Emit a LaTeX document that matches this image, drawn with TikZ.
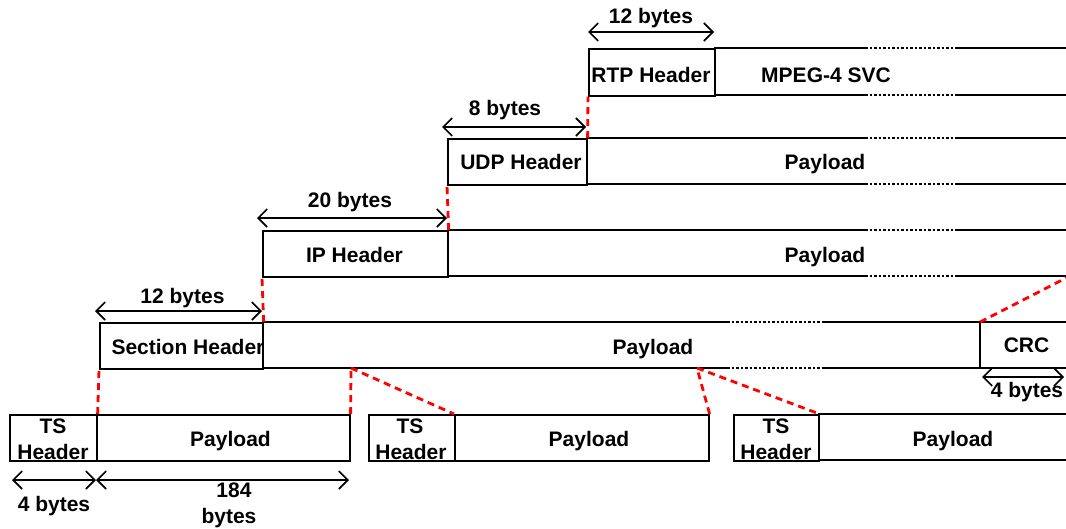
\documentclass[tikz,border=0pt]{standalone}
\usepackage{fontspec}
\setmainfont{Liberation Sans}
\usetikzlibrary{arrows.meta}
\begin{document}
\begin{tikzpicture}[x=1pt,y=-1pt,
  font=\fontsize{21}{26}\selectfont\bfseries,
  frame/.style={draw=black, line width=1.6pt, inner sep=0pt, anchor=north west},
  rule/.style={draw=black, line width=1.6pt},
  dotrule/.style={draw=black, line width=1.6pt, dash pattern=on 2.5pt off 2pt},
  span/.style={draw=black, line width=1.6pt,
    {Straight Barb[length=9pt,width=18pt]}-{Straight Barb[length=9pt,width=18pt]}},
  link/.style={draw=red, line width=2.8pt, dash pattern=on 7pt off 5pt},
  lbl/.style={inner sep=0pt, text height=15pt, text depth=0pt}
]
\useasboundingbox (0,0) rectangle (1066,528);

% an open-ended payload band: solid, dotted gap, solid
\newcommand\band[5]{%
  \draw[rule] (#1,#2) -- (#3,#2);
  \draw[dotrule] (#3,#2) -- (#4,#2);
  \draw[rule] (#4,#2) -- (#5,#2);}

% ---------- RTP layer ----------
\node[frame, minimum width=126pt, minimum height=47pt] (rtp) at (588,48) {};
\band{714}{48}{865}{955}{1068}
\band{714}{95}{865}{955}{1068}
\node[lbl] at (651,74.5) {RTP Header};
\node[lbl] at (826,74.5) {MPEG-4 SVC};
\coordinate (rtpA) at (588,32);
\coordinate (rtpB) at (714,32);
\draw[span] (rtpA) -- (rtpB);
\node[lbl] at (651,16) {12 bytes};

% ---------- UDP layer ----------
\node[frame, minimum width=139pt, minimum height=46pt] (udp) at (447,138) {};
\band{586}{138}{865}{955}{1068}
\band{586}{184}{865}{955}{1068}
\node[lbl] at (521,161.5) {UDP Header};
\node[lbl] at (825,161.5) {Payload};
\coordinate (udpA) at (442,127);
\coordinate (udpB) at (586,127);
\draw[span] (udpA) -- (udpB);
\node[lbl] at (505,107.5) {8 bytes};

% ---------- IP layer ----------
\node[frame, minimum width=185pt, minimum height=46pt] (ip) at (262,230) {};
\band{447}{230}{865}{955}{1068}
\band{447}{276}{865}{955}{1068}
\node[lbl] at (354.5,255) {IP Header};
\node[lbl] at (825,255) {Payload};
\coordinate (ipA) at (257,218);
\coordinate (ipB) at (447,218);
\draw[span] (ipA) -- (ipB);
\node[lbl] at (350,200) {20 bytes};

% ---------- Section layer ----------
\node[frame, minimum width=163pt, minimum height=46pt] (sec) at (99,322) {};
\band{262}{322}{727}{823}{1068}
\band{262}{368}{727}{823}{1068}
\draw[rule] (980,322) -- (980,368);
\coordinate (crcTL) at (980,322);
\node[lbl] at (188,346.5) {Section Header};
\node[lbl] at (653,346.5) {Payload};
\node[lbl] at (1026.5,345) {CRC};
\coordinate (secA) at (95,311);
\coordinate (secB) at (262,311);
\draw[span] (secA) -- (secB);
\node[lbl] at (182.5,295.5) {12 bytes};
\coordinate (crcA) at (982,377);
\coordinate (crcB) at (1064,377);
\draw[span] (crcA) -- (crcB);
\node[lbl] at (1027,390) {4 bytes};

% ---------- TS packets ----------
\node[frame, minimum width=87pt, minimum height=46pt] (ts1h) at (9,414) {};
\node[frame, minimum width=253pt, minimum height=46pt] (ts1p) at (96,414) {};
\node[frame, minimum width=86pt, minimum height=46pt] (ts2h) at (368,414) {};
\node[frame, minimum width=254pt, minimum height=46pt] (ts2p) at (454,414) {};
\node[frame, minimum width=85pt, minimum height=46pt] (ts3h) at (733,414) {};
\draw[rule] (818,414) -- (1068,414);
\draw[rule] (818,460) -- (1068,460);

\node[lbl] at (53,426) {TS};
\node[lbl] at (53,451.5) {Header};
\node[lbl] at (410,426) {TS};
\node[lbl] at (411,451.5) {Header};
\node[lbl] at (776,426) {TS};
\node[lbl] at (776,451.5) {Header};
\node[lbl] at (230.5,438.5) {Payload};
\node[lbl] at (589,438.5) {Payload};
\node[lbl] at (953,438.5) {Payload};

\coordinate (tsA) at (12,480);
\coordinate (tsB) at (96,480);
\coordinate (tsC) at (349,480);
\draw[span] (tsA) -- (tsB);
\draw[span] (tsB) -- (tsC);
\node[lbl] at (54,503.5) {4 bytes};
\node[lbl] at (234,490) {184};
\node[lbl] at (229,516) {bytes};

% ---------- mapping between layers ----------
\coordinate (cutA) at (351,368);
\coordinate (cutB) at (697,368);
\coordinate (ipEnd) at (1068,277);
\draw[link] (ts1h.north east) -- (sec.south west);
\draw[link] (ts1p.north east) -- (cutA);
\draw[link] (cutA) -- (ts2p.north west);
\draw[link] (ts2p.north east) -- (cutB);
\draw[link] (cutB) -- (ts3h.north east);
\draw[link] (sec.north east) -- (ip.south west);
\draw[link] (ip.north east) -- (udp.south west);
\draw[link] (udp.north east) -- (rtp.south west);
\draw[link] (crcTL) -- (ipEnd);
\end{tikzpicture}
\end{document}
